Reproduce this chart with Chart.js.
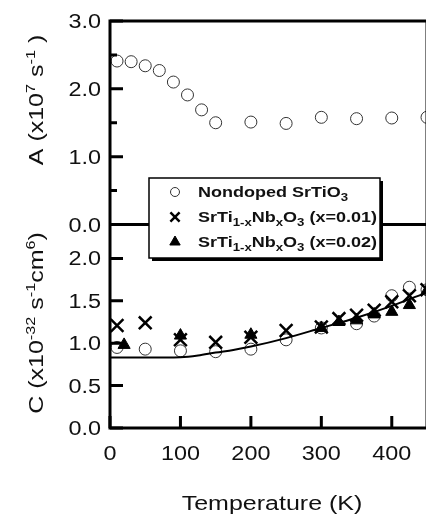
<!DOCTYPE html>
<html>
<head>
<meta charset="utf-8">
<script src="https://cdn.jsdelivr.net/npm/chart.js@4.4.0/dist/chart.umd.min.js"></script>
<style>
    html, body { margin: 0; padding: 0; background: #fff; overflow: hidden; }
    #wrap { width: 440px; height: 517px; position: relative; }
</style>
</head>
<body>
<div id="wrap"><canvas id="chart"></canvas></div>
<script>
// --- Top panel: A (x10^7 s^-1), nondoped SrTiO3 ---
const tempA = [10, 30, 50, 70, 90, 110, 130, 150, 200, 250, 300, 350, 400, 450];
const valuesA = [2.41, 2.40, 2.34, 2.27, 2.10, 1.91, 1.69, 1.50, 1.51, 1.49, 1.58, 1.56, 1.57, 1.58];

// --- Bottom panel: C (x10^-32 s^-1 cm^6) ---
const tempNondoped = [10, 50, 100, 150, 200, 250, 300, 350, 375, 400, 425, 450];
const valuesNondoped = [0.95, 0.93, 0.91, 0.90, 0.93, 1.04, 1.18, 1.23, 1.32, 1.56, 1.66, 1.63];

const tempNb001 = [10, 50, 100, 150, 200, 250, 300, 325, 350, 375, 400, 425, 450];
const valuesNb001 = [1.21, 1.24, 1.04, 1.01, 1.07, 1.15, 1.19, 1.29, 1.33, 1.39, 1.49, 1.56, 1.63];

const tempNb002 = [20, 100, 200, 300, 325, 350, 375, 400, 425, 450];
const valuesNb002 = [0.98, 1.09, 1.10, 1.18, 1.25, 1.27, 1.34, 1.37, 1.45, 1.62];

// fitted curve
const fitTemps = [0, 50, 100, 125, 150, 175, 200, 250, 300, 350, 400, 450];
const fitValues = [0.83, 0.83, 0.835, 0.855, 0.89, 0.92, 0.96, 1.06, 1.18, 1.30, 1.44, 1.60];

// ticks
const xTicks = [0, 100, 200, 300, 400];
const aMajorTicks = [0, 1, 2, 3];
const aMinorTicks = [0.5, 1.5, 2.5];
const cTicks = [0, 0.5, 1, 1.5, 2];

const legendLabels = [
    [['Nondoped SrTiO', 0], ['3', -1]],
    [['SrTi', 0], ['1-x', -1], ['Nb', 0], ['x', -1], ['O', 0], ['3', -1], [' (x=0.01)', 0]],
    [['SrTi', 0], ['1-x', -1], ['Nb', 0], ['x', -1], ['O', 0], ['3', -1], [' (x=0.02)', 0]]
];

const toPoints = (xs, ys) => xs.map((x, i) => ({ x: x, y: ys[i] }));

const FONT = 'Arial, "Liberation Sans", sans-serif';
const INK = '#111';

// draws text made of normal / super / sub pieces, stretched a bit wide like the original figure
function drawRich(ctx, parts, x, y, o) {
    ctx.save();
    ctx.translate(x, y);
    if (o.rotate) ctx.rotate(o.rotate);
    ctx.scale(o.stretch || 1, 1);
    ctx.fillStyle = INK;
    ctx.textBaseline = o.baseline || 'alphabetic';
    const fontOf = k => (o.bold ? 'bold ' : '') + (k === 0 ? o.size : o.small) + 'px ' + FONT;
    let total = 0;
    parts.forEach(p => { ctx.font = fontOf(p[1]); total += ctx.measureText(p[0]).width; });
    let cx = o.align === 'center' ? -total / 2 : (o.align === 'right' ? -total : 0);
    parts.forEach(p => {
        ctx.font = fontOf(p[1]);
        const dy = p[1] === 1 ? -o.supShift : (p[1] === -1 ? o.subShift : 0);
        ctx.fillText(p[0], cx, dy);
        cx += ctx.measureText(p[0]).width;
    });
    ctx.restore();
}

const framePlugin = {
    id: 'frame',
    afterDraw(chart) {
        const ctx = chart.ctx;
        const area = chart.chartArea;
        const sx = chart.scales.x, sa = chart.scales.yA, sc = chart.scales.yC;
        const mid = sa.bottom;

        ctx.save();
        ctx.strokeStyle = '#000';
        ctx.lineWidth = 3;
        ctx.lineCap = 'square';
        ctx.beginPath();
        ctx.moveTo(area.left, area.top); ctx.lineTo(area.right, area.top);
        ctx.moveTo(area.left, mid); ctx.lineTo(area.right, mid);
        ctx.moveTo(area.left, area.bottom); ctx.lineTo(area.right, area.bottom);
        ctx.moveTo(area.left, area.top); ctx.lineTo(area.left, area.bottom);
        ctx.moveTo(area.right, area.top); ctx.lineTo(area.right, area.bottom);
        ctx.stroke();

        // inward ticks
        ctx.lineCap = 'butt';
        ctx.beginPath();
        aMajorTicks.forEach(v => { const y = sa.getPixelForValue(v); ctx.moveTo(area.left, y); ctx.lineTo(area.left + 13, y); });
        aMinorTicks.forEach(v => { const y = sa.getPixelForValue(v); ctx.moveTo(area.left, y); ctx.lineTo(area.left + 7, y); });
        cTicks.forEach(v => { const y = sc.getPixelForValue(v); ctx.moveTo(area.left, y); ctx.lineTo(area.left + 13, y); });
        xTicks.forEach(v => { const x = sx.getPixelForValue(v); ctx.moveTo(x, area.bottom); ctx.lineTo(x, area.bottom - 12); });
        ctx.stroke();
        ctx.restore();

        // tick labels
        const tick = { size: 19.5, small: 13, stretch: 1.2, align: 'right', baseline: 'alphabetic' };
        aMajorTicks.forEach(v => drawRich(ctx, [[v.toFixed(1), 0]], 101, sa.getPixelForValue(v) + 7, tick));
        cTicks.forEach(v => drawRich(ctx, [[v.toFixed(1), 0]], 101, sc.getPixelForValue(v) + 7, tick));
        xTicks.forEach(v => drawRich(ctx, [[String(v), 0]], sx.getPixelForValue(v), 460,
            Object.assign({}, tick, { align: 'center' })));

        // axis titles
        const title = { size: 20, small: 13, stretch: 1.25, align: 'center', supShift: 8 };
        drawRich(ctx, [['Temperature (K)', 0]], 272, 510, title);
        drawRich(ctx, [['A (x10', 0], ['7', 1], [' s', 0], ['-1', 1], [' )', 0]], 43, 100,
            Object.assign({}, title, { rotate: -Math.PI / 2 }));
        drawRich(ctx, [['C (x10', 0], ['-32', 1], [' s', 0], ['-1', 1], ['cm', 0], ['6', 1], [')', 0]], 43, 323,
            Object.assign({}, title, { rotate: -Math.PI / 2 }));

        // legend box with drop shadow
        const lx = 149, ly = 178, lw = 231, lh = 80;
        ctx.save();
        ctx.fillStyle = '#000';
        ctx.fillRect(lx + 3, ly + 3, lw, lh);
        ctx.fillStyle = '#fff';
        ctx.fillRect(lx, ly, lw, lh);
        ctx.strokeStyle = '#000';
        ctx.lineWidth = 1.5;
        ctx.strokeRect(lx, ly, lw, lh);

        const rows = [192, 217, 242];
        const markers = [
            { pointStyle: 'circle', radius: 4.5, borderWidth: 1, stroke: '#333', fill: 'rgba(0,0,0,0)' },
            { pointStyle: 'crossRot', radius: 6.5, borderWidth: 2.5, stroke: '#000', fill: '#000' },
            { pointStyle: 'triangle', radius: 6, borderWidth: 1, stroke: '#000', fill: '#000' }
        ];
        rows.forEach((y, i) => {
            const m = markers[i];
            ctx.strokeStyle = m.stroke;
            ctx.fillStyle = m.fill;
            ctx.lineWidth = m.borderWidth;
            Chart.helpers.drawPoint(ctx, { pointStyle: m.pointStyle, radius: m.radius, rotation: 0, borderWidth: m.borderWidth }, 175, y);
            drawRich(ctx, legendLabels[i], 198, y + 5, { size: 15, small: 11, bold: true, stretch: 1.2, align: 'left', subShift: 4 });
        });
        ctx.restore();
    }
};

const hiddenAxis = {
    ticks: { display: false },
    grid: { display: false, drawTicks: false },
    border: { display: false }
};

new Chart(document.getElementById('chart'), {
    type: 'scatter',
    data: {
        datasets: [
            {
                label: 'SrTi1-xNbxO3 (x=0.01)',
                data: toPoints(tempNb001, valuesNb001),
                yAxisID: 'yC',
                pointStyle: 'crossRot',
                pointRadius: 9,
                pointBorderWidth: 2.5,
                borderColor: '#000',
                backgroundColor: '#000'
            },
            {
                label: 'SrTi1-xNbxO3 (x=0.02)',
                data: toPoints(tempNb002, valuesNb002),
                yAxisID: 'yC',
                pointStyle: 'triangle',
                pointRadius: 7,
                pointBorderWidth: 1,
                borderColor: '#000',
                backgroundColor: '#000'
            },
            {
                type: 'line',
                label: 'fit',
                data: toPoints(fitTemps, fitValues),
                yAxisID: 'yC',
                borderColor: '#000',
                borderWidth: 2,
                pointRadius: 0,
                cubicInterpolationMode: 'monotone',
                fill: false
            },
            {
                label: 'Nondoped SrTiO3',
                data: toPoints(tempNondoped, valuesNondoped),
                yAxisID: 'yC',
                pointStyle: 'circle',
                pointRadius: 6,
                pointBorderWidth: 1,
                borderColor: '#333',
                backgroundColor: 'rgba(0,0,0,0)'
            },
            {
                label: 'A',
                data: toPoints(tempA, valuesA),
                yAxisID: 'yA',
                pointStyle: 'circle',
                pointRadius: 6,
                pointBorderWidth: 1,
                borderColor: '#333',
                backgroundColor: 'rgba(0,0,0,0)'
            }
        ]
    },
    options: {
        responsive: true,
        maintainAspectRatio: false,
        animation: false,
        clip: false,
        layout: { padding: { top: 21, right: 13, left: 0, bottom: 0 } },
        plugins: { legend: { display: false }, tooltip: { enabled: false } },
        scales: {
            x: Object.assign({}, hiddenAxis, {
                type: 'linear', min: 0, max: 450,
                afterFit: s => { s.height = 89; }
            }),
            // listed bottom-first: the stacked left boxes get placed in reverse order
            yC: Object.assign({}, hiddenAxis, {
                type: 'linear', position: 'left', stack: 'panels', stackWeight: 1,
                min: 0, max: 2.4,
                afterFit: s => { s.width = 110; }
            }),
            yA: Object.assign({}, hiddenAxis, {
                type: 'linear', position: 'left', stack: 'panels', stackWeight: 1,
                min: 0, max: 3,
                afterFit: s => { s.width = 110; }
            })
        }
    },
    plugins: [framePlugin]
});
</script>
</body>
</html>
